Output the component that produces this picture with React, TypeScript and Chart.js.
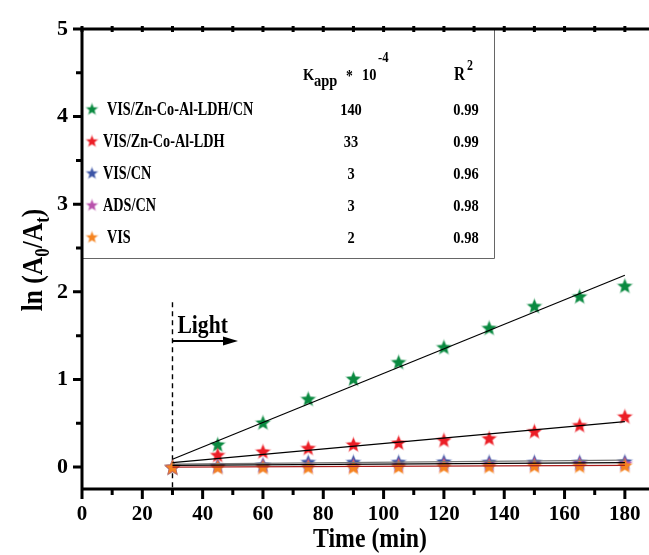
import React, { useEffect, useRef } from 'react';
import { Chart, registerables } from 'chart.js';

Chart.register(...registerables);

// Irradiation time (min) at which ln(A0/At) was sampled
const TIME = [30, 45, 60, 75, 90, 105, 120, 135, 150, 165, 180];

// Measured ln(A0/At) per catalyst system
const VIS_LDH_CN = [0, 0.26, 0.51, 0.78, 1.01, 1.2, 1.37, 1.59, 1.84, 1.95, 2.07];
const VIS_LDH = [0, 0.14, 0.18, 0.22, 0.26, 0.28, 0.31, 0.33, 0.41, 0.48, 0.58];
const VIS_CN = [0, 0.02, 0.03, 0.06, 0.06, 0.06, 0.065, 0.06, 0.06, 0.06, 0.065];
const ADS_CN = [0, 0.01, 0.015, 0.02, 0.02, 0.025, 0.03, 0.03, 0.035, 0.04, 0.04];
const VIS_ONLY = [0, 0, 0, 0, 0, 0.005, 0.01, 0.01, 0.015, 0.015, 0.02];

// Linear fits (start and end of the fitted range)
const FIT_TIME = [30, 180];
const FIT_LDH_CN = [0.09, 2.19];
const FIT_LDH = [0.05, 0.52];
const FIT_CN = [0.02, 0.05];
const FIT_ADS = [0.035, 0.08];
const FIT_VIS = [0.0, 0.02];

// Table shown in the legend box
const SERIES_NAMES = ['VIS/Zn-Co-Al-LDH/CN', 'VIS/Zn-Co-Al-LDH', 'VIS/CN', 'ADS/CN', 'VIS'];
const KAPP = ['140', '33', '3', '3', '2'];
const R2 = ['0.99', '0.99', '0.96', '0.98', '0.98'];

const X_TICKS = [0, 20, 40, 60, 80, 100, 120, 140, 160, 180];
const X_MINOR = [10, 30, 50, 70, 90, 110, 130, 150, 170];
const Y_TICKS = [0, 1, 2, 3, 4, 5];
const Y_MINOR = [0.5, 1.5, 2.5, 3.5, 4.5];

const LIGHT_ON = 30;

const GREEN = 'rgb(10,138,64)';
const RED = 'rgb(236,30,38)';
const BLUE = 'rgb(60,84,166)';
const MAGENTA = 'rgb(184,82,172)';
const ORANGE = 'rgb(246,132,32)';
const SERIES_COLORS = [GREEN, RED, BLUE, MAGENTA, ORANGE];

const SERIF = '"Liberation Serif", "Times New Roman", serif';

function fade(color: string, a: number) {
  return color.replace('rgb(', 'rgba(').replace(')', `,${a})`);
}

function makeStar(color: string, r: number): HTMLCanvasElement {
  const pad = 2;
  const size = Math.ceil(2 * r + 2 * pad);
  const c = document.createElement('canvas');
  c.width = size;
  c.height = size;
  const g = c.getContext('2d')!;
  const cx = size / 2;
  const cy = size / 2 + r * 0.095;
  g.beginPath();
  for (let i = 0; i < 10; i++) {
    const rad = i % 2 === 0 ? r : r * 0.45;
    const a = -Math.PI / 2 + (i * Math.PI) / 5;
    g.lineTo(cx + rad * Math.cos(a), cy + rad * Math.sin(a));
  }
  g.closePath();
  g.fillStyle = color;
  g.fill();
  g.lineWidth = 1.3;
  g.strokeStyle = fade(color, 0.4);
  g.stroke();
  return c;
}

type Piece = { t: string; size: number; dy?: number };

function drawPieces(
  ctx: CanvasRenderingContext2D,
  pieces: Piece[],
  x: number,
  y: number,
  sx: number,
  align: 'left' | 'center'
) {
  ctx.save();
  ctx.translate(x, y);
  ctx.scale(sx, 1);
  ctx.textAlign = 'left';
  ctx.textBaseline = 'alphabetic';
  ctx.fillStyle = '#000';
  let total = 0;
  for (const p of pieces) {
    ctx.font = `bold ${p.size}px ${SERIF}`;
    total += ctx.measureText(p.t).width;
  }
  let cx = align === 'center' ? -total / 2 : 0;
  for (const p of pieces) {
    ctx.font = `bold ${p.size}px ${SERIF}`;
    ctx.fillText(p.t, cx, p.dy || 0);
    cx += ctx.measureText(p.t).width;
  }
  ctx.restore();
}

const legendStars = SERIES_COLORS.map((c) => makeStar(c, 5.5));

const decorations = {
  id: 'decorations',
  beforeDatasetsDraw(chart: any) {
    const { ctx, scales } = chart;
    const xs = scales.x;
    const ys = scales.y;
    const x = xs.getPixelForValue(LIGHT_ON);
    ctx.save();
    ctx.strokeStyle = '#000';
    ctx.lineWidth = 1.4;
    ctx.setLineDash([5, 4]);
    ctx.beginPath();
    ctx.moveTo(x, ys.getPixelForValue(1.88));
    ctx.lineTo(x, ys.bottom);
    ctx.stroke();
    ctx.restore();
  },
  afterDraw(chart: any) {
    const { ctx, scales, chartArea } = chart;
    const xs = scales.x;
    const ys = scales.y;
    const { left, right, top, bottom } = chartArea;

    ctx.save();
    // legend frame
    ctx.strokeStyle = '#666';
    ctx.lineWidth = 1;
    ctx.beginPath();
    ctx.moveTo(494.5, top);
    ctx.lineTo(494.5, 258.5);
    ctx.lineTo(left, 258.5);
    ctx.stroke();

    // axis lines
    ctx.strokeStyle = '#000';
    ctx.lineWidth = 3;
    ctx.beginPath();
    ctx.moveTo(left, top);
    ctx.lineTo(right, top);
    ctx.moveTo(left, top - 1.5);
    ctx.lineTo(left, bottom);
    ctx.moveTo(left, bottom);
    ctx.lineTo(right, bottom);
    ctx.stroke();

    // bottom ticks
    ctx.beginPath();
    for (const v of X_TICKS) {
      const px = xs.getPixelForValue(v);
      ctx.moveTo(px, bottom);
      ctx.lineTo(px, bottom + 10);
    }
    for (const v of X_MINOR) {
      const px = xs.getPixelForValue(v);
      ctx.moveTo(px, bottom);
      ctx.lineTo(px, bottom + 6);
    }
    // top ticks
    for (const v of [...X_TICKS, ...X_MINOR]) {
      const px = xs.getPixelForValue(v);
      ctx.moveTo(px, top - 3);
      ctx.lineTo(px, top + 3);
    }
    // left ticks
    for (const v of Y_TICKS) {
      const py = ys.getPixelForValue(v);
      ctx.moveTo(left - 9, py);
      ctx.lineTo(left, py);
    }
    for (const v of Y_MINOR) {
      const py = ys.getPixelForValue(v);
      ctx.moveTo(left - 6, py);
      ctx.lineTo(left, py);
    }
    ctx.stroke();

    // "Light" marker with arrow
    const lx = xs.getPixelForValue(LIGHT_ON);
    drawPieces(ctx, [{ t: 'Light', size: 26 }], lx + 5, 333, 0.83, 'left');
    const ay = 341;
    const ax2 = 238;
    ctx.lineWidth = 2;
    ctx.beginPath();
    ctx.moveTo(lx, ay);
    ctx.lineTo(ax2 - 12, ay);
    ctx.stroke();
    ctx.fillStyle = '#000';
    ctx.beginPath();
    ctx.moveTo(ax2 - 15, ay - 4.5);
    ctx.lineTo(ax2, ay);
    ctx.lineTo(ax2 - 15, ay + 4.5);
    ctx.closePath();
    ctx.fill();

    // axis titles
    drawPieces(ctx, [{ t: 'Time (min)', size: 28 }], 370, 547, 0.85, 'center');
    ctx.save();
    ctx.translate(42, 260);
    ctx.rotate(-Math.PI / 2);
    drawPieces(
      ctx,
      [
        { t: 'ln (A', size: 30 },
        { t: '0', size: 20, dy: 7 },
        { t: '/A', size: 30 },
        { t: 't', size: 20, dy: 7 },
        { t: ')', size: 30 },
      ],
      0,
      0,
      0.85,
      'center'
    );
    ctx.restore();

    // legend table header
    const hs = 0.85;
    drawPieces(ctx, [{ t: 'K', size: 17 }], 303, 80, hs, 'left');
    drawPieces(ctx, [{ t: 'app', size: 17 }], 314, 86, hs, 'left');
    drawPieces(ctx, [{ t: '*', size: 16 }], 346, 81, hs, 'left');
    drawPieces(ctx, [{ t: '10', size: 17 }], 362, 80, hs, 'left');
    drawPieces(ctx, [{ t: '-4', size: 15 }], 378, 62, hs, 'left');
    drawPieces(ctx, [{ t: 'R', size: 18 }], 454, 80, hs, 'left');
    drawPieces(ctx, [{ t: '2', size: 14 }], 467, 70, hs, 'left');

    // legend rows
    const rowY = [109, 141, 173, 205, 237];
    const labelX = [107, 103, 103, 103, 107];
    SERIES_NAMES.forEach((name, i) => {
      const star = legendStars[i];
      ctx.drawImage(star, 92 - star.width / 2, rowY[i] - star.height / 2);
      drawPieces(ctx, [{ t: name, size: 18 }], labelX[i], rowY[i] + 6, 0.79, 'left');
      drawPieces(ctx, [{ t: KAPP[i], size: 17 }], 351, rowY[i] + 6, 0.85, 'center');
      drawPieces(ctx, [{ t: R2[i], size: 17 }], 466, rowY[i] + 6, 0.85, 'center');
    });
    ctx.restore();
  },
};

export default function App() {
  const ref = useRef<HTMLCanvasElement | null>(null);

  useEffect(() => {
    if (!ref.current) return;
    const stars = SERIES_COLORS.map((c) => makeStar(c, 7.2));
    const pts = (ys: number[]) => TIME.map((t, i) => ({ x: t, y: ys[i] }));
    const fit = (ys: number[]) => FIT_TIME.map((t, i) => ({ x: t, y: ys[i] }));
    const fitLine = (ys: number[], color: string) => ({
      label: 'fit',
      data: fit(ys),
      showLine: true,
      borderColor: color,
      borderWidth: 1.2,
      pointRadius: 0,
      order: 0,
    });
    const seriesData = [VIS_LDH_CN, VIS_LDH, VIS_CN, ADS_CN, VIS_ONLY];

    const chart = new Chart(ref.current, {
      type: 'scatter',
      data: {
        datasets: [
          fitLine(FIT_LDH_CN, '#000'),
          fitLine(FIT_LDH, '#000'),
          fitLine(FIT_CN, '#000'),
          fitLine(FIT_ADS, '#777'),
          fitLine(FIT_VIS, 'rgb(170,30,30)'),
          ...seriesData.map((d, i) => ({
            label: SERIES_NAMES[i],
            data: pts(d),
            pointStyle: stars[i] as any,
            pointRadius: 7,
            showLine: false,
            order: 5 - i,
          })),
        ] as any,
      },
      options: {
        responsive: false,
        animation: false,
        devicePixelRatio: 1,
        layout: { autoPadding: false, padding: { top: 29, left: 0, right: 0, bottom: 0 } },
        plugins: {
          legend: { display: false },
          tooltip: { enabled: false },
        },
        scales: {
          x: {
            type: 'linear',
            min: 0,
            max: 188,
            grid: { display: false, drawTicks: false },
            border: { display: false },
            ticks: {
              color: '#000',
              padding: 13,
              maxRotation: 0,
              autoSkip: false,
              font: { family: SERIF, size: 21, weight: 'bold' },
            },
            afterBuildTicks: (s: any) => {
              s.ticks = X_TICKS.map((v) => ({ value: v }));
            },
            afterFit: (s: any) => {
              s.height = 66;
              s.paddingLeft = 0;
              s.paddingRight = 0;
            },
          },
          y: {
            type: 'linear',
            min: -0.25,
            max: 5,
            grid: { display: false, drawTicks: false },
            border: { display: false },
            ticks: {
              color: '#000',
              padding: 14,
              font: { family: SERIF, size: 22, weight: 'bold' },
            },
            afterBuildTicks: (s: any) => {
              s.ticks = Y_TICKS.map((v) => ({ value: v }));
            },
            afterFit: (s: any) => {
              s.width = 82;
              s.paddingTop = 0;
              s.paddingBottom = 0;
            },
          },
        },
      } as any,
      plugins: [decorations],
    });
    return () => chart.destroy();
  }, []);

  return (
    <div style={{ position: 'fixed', left: 0, top: 0, width: 649, height: 555, background: '#fff' }}>
      <canvas ref={ref} width={649} height={555} style={{ display: 'block' }} />
    </div>
  );
}
